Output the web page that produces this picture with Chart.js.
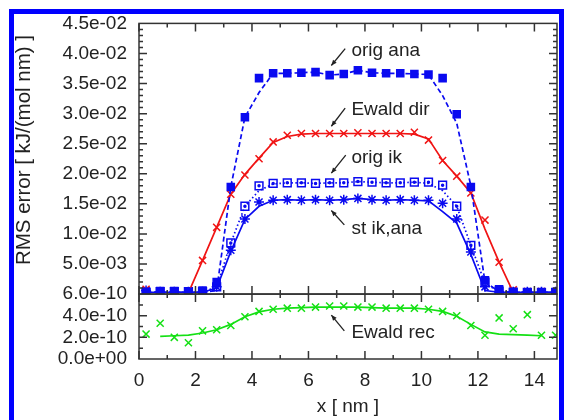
<!DOCTYPE html>
<html>
<head>
<meta charset="utf-8">
<script src="https://cdn.jsdelivr.net/npm/chart.js@4/dist/chart.umd.min.js"></script>
<style>
  html, body { margin: 0; padding: 0; background: #fff; }
  #wrap { position: relative; width: 564px; height: 420px; overflow: hidden; }
  #wrap canvas { position: absolute; left: 0; top: 0; }
  #frame { position: absolute; left: 9px; top: 9px; width: 545px; height: 440px;
           border: 5px solid #0000ff; border-bottom: none; pointer-events: none; }
</style>
</head>
<body>
<div id="wrap">
  <canvas id="chart" width="564" height="420"></canvas>
  <div id="frame"></div>
</div>
<script>
// bin centres along the box [nm]
const xs = [0.25, 0.75, 1.25, 1.75, 2.25, 2.75, 3.25, 3.75, 4.25, 4.75,
            5.25, 5.75, 6.25, 6.75, 7.25, 7.75, 8.25, 8.75, 9.25, 9.75,
            10.25, 10.75, 11.25, 11.75, 12.25, 12.75, 13.25, 13.75, 14.25, 14.75];

// upper panel, kJ/(mol nm)
const origAna = [0.0004, 0.0005, 0.0005, 0.0004, 0.0006, 0.0020, 0.0178, 0.0294, 0.0359, 0.0367,
                 0.0367, 0.0368, 0.0369, 0.0364, 0.0366, 0.0372, 0.0368, 0.0367, 0.0367, 0.0366,
                 0.0365, 0.0359, 0.0299, 0.0178, 0.0023, 0.0008, 0.0004, 0.0003, 0.0003, 0.0003];
const origAnaFit = [0.0003, 0.0003, 0.0003, 0.0003, 0.0003, 0.0006, 0.0178, 0.0294, 0.0335, 0.0367,
                    0.0367, 0.0368, 0.0369, 0.0364, 0.0366, 0.0372, 0.0368, 0.0367, 0.0367, 0.0366,
                    0.0365, 0.0330, 0.0284, 0.0180, 0.0020, 0.0004, 0.0003, 0.0003, 0.0003, 0.0003];

const ewaldDir = [0.0008, 0.0003, 0.0003, 0.0003, 0.0056, 0.0111, 0.0166, 0.0198, 0.0225, 0.0253,
                  0.0264, 0.0267, 0.0267, 0.0267, 0.0267, 0.0268, 0.0267, 0.0267, 0.0267, 0.0269,
                  0.0256, 0.0222, 0.0196, 0.0168, 0.0123, 0.0053, 0.0007, 0.0004, 0.0004, 0.0003];
const ewaldDirFit = [null, null, null, 0.0002, 0.0056, 0.0111, 0.0166, 0.0199, 0.0226, 0.0252,
                     0.0262, 0.0266, 0.0267, 0.0267, 0.0267, 0.0267, 0.0267, 0.0267, 0.0267, 0.0266,
                     0.0258, 0.0222, 0.0196, 0.0168, 0.0108, 0.0053, 0.0003, null, null, null];

const origIk = [0.0003, 0.0004, 0.0004, 0.0004, 0.0004, 0.0012, 0.0085, 0.0146, 0.0180, 0.0184,
                0.0185, 0.0185, 0.0184, 0.0185, 0.0185, 0.0187, 0.0186, 0.0185, 0.0185, 0.0186,
                0.0186, 0.0181, 0.0146, 0.0081, 0.0020, 0.0005, 0.0003, 0.0003, 0.0003, 0.0003];
const origIkFit = [0.0003, 0.0003, 0.0003, 0.0003, 0.0003, 0.0012, 0.0085, 0.0146, 0.0172, 0.0183,
                   0.0185, 0.0185, 0.0184, 0.0185, 0.0185, 0.0187, 0.0186, 0.0185, 0.0185, 0.0186,
                   0.0184, 0.0172, 0.0146, 0.0081, 0.0018, 0.0004, 0.0003, 0.0003, 0.0003, 0.0003];

const stIkAna = [0.0006, 0.0004, 0.0004, 0.0004, 0.0004, 0.0012, 0.0073, 0.0125, 0.0153, 0.0156,
                 0.0157, 0.0156, 0.0157, 0.0156, 0.0157, 0.0159, 0.0157, 0.0156, 0.0157, 0.0156,
                 0.0156, 0.0151, 0.0125, 0.0070, 0.0012, 0.0004, 0.0004, 0.0004, 0.0004, 0.0004];
const stIkAnaFit = [0.0003, 0.0003, 0.0003, 0.0003, 0.0003, 0.0010, 0.0071, 0.0124, 0.0146, 0.0156,
                    0.0157, 0.0156, 0.0157, 0.0156, 0.0157, 0.0159, 0.0157, 0.0156, 0.0157, 0.0156,
                    0.0155, 0.0137, 0.0118, 0.0066, 0.0006, 0.0003, 0.0003, 0.0003, 0.0003, 0.0003];

// lower panel
const ewaldRec = [2.3e-10, 3.3e-10, 2.0e-10, 1.5e-10, 2.6e-10, 2.7e-10, 3.1e-10, 3.9e-10, 4.4e-10, 4.6e-10,
                  4.7e-10, 4.7e-10, 4.8e-10, 4.9e-10, 4.9e-10, 4.8e-10, 4.8e-10, 4.7e-10, 4.7e-10, 4.7e-10,
                  4.6e-10, 4.4e-10, 4.0e-10, 3.1e-10, 2.2e-10, 3.8e-10, 2.8e-10, 4.1e-10, 2.2e-10, 2.2e-10];
const ewaldRecFit = [null, 2.1e-10, 2.15e-10, 2.2e-10, 2.4e-10, 2.7e-10, 3.2e-10, 3.9e-10, 4.35e-10, 4.6e-10,
                     4.7e-10, 4.75e-10, 4.8e-10, 4.8e-10, 4.8e-10, 4.8e-10, 4.75e-10, 4.7e-10, 4.7e-10, 4.7e-10,
                     4.6e-10, 4.4e-10, 3.95e-10, 3.2e-10, 2.5e-10, 2.3e-10, 2.25e-10, 2.2e-10, 2.15e-10, null];

// curve labels: text position and arrow (tail -> head), in data units
const notes = [
  { text: 'orig ana',  axis: 'y',  tx: 7.52, ty: 0.0405,  from: [7.30, 0.0408],  to: [6.81, 0.0380] },
  { text: 'Ewald dir', axis: 'y',  tx: 7.52, ty: 0.0306,  from: [7.30, 0.0309],  to: [6.81, 0.0279] },
  { text: 'orig ik',   axis: 'y',  tx: 7.52, ty: 0.0226,  from: [7.32, 0.0231],  to: [6.81, 0.0201] },
  { text: 'st ik,ana', axis: 'y',  tx: 7.52, ty: 0.0108,  from: [7.27, 0.0115],  to: [6.81, 0.0139] },
  { text: 'Ewald rec', axis: 'y2', tx: 7.52, ty: 2.4e-10, from: [7.27, 2.6e-10], to: [6.81, 4.06e-10] },
];
const yTitle = 'RMS error [ kJ/(mol nm) ]';

const BLUE = '#0a0af0', RED = '#f01414', GREEN = '#14e014', INK = '#222';
const FAMILY = '"Liberation Sans", Arial, sans-serif';
const FONT = { family: FAMILY, size: 19 };

const pts = arr => xs.map((x, i) => ({ x, y: arr[i] }));

function sci(v) {
  const [m, e] = v.toExponential(1).split('e');
  const n = parseInt(e, 10);
  return m + 'e' + (n < 0 ? '-' : '+') + String(Math.abs(n)).padStart(2, '0');
}

const line = (arr, color, dash, axis) => ({
  data: pts(arr), yAxisID: axis, showLine: true, pointRadius: 0,
  borderColor: color, borderWidth: 1.7, borderDash: dash, tension: 0, fill: false,
});
const marks = (arr, color, style, radius, axis, filled) => ({
  data: pts(arr), yAxisID: axis, showLine: false, pointStyle: style, pointRadius: radius,
  borderColor: color, pointBorderWidth: 1.5, backgroundColor: filled ? color : 'rgba(0,0,0,0)',
});

const panelDecor = {
  id: 'panelDecor',
  afterDatasetsDraw(chart) {
    const { ctx, chartArea: a, scales: { x, y, y2 } } = chart;
    ctx.save();
    ctx.strokeStyle = '#333';
    ctx.lineWidth = 1.5;
    for (const s of [y, y2]) ctx.strokeRect(a.left, s.top, a.right - a.left, s.bottom - s.top);

    ctx.beginPath();
    for (let k = 0; k <= 14; k++) {
      const px = x.getPixelForValue(k), len = k % 2 === 0 ? 8 : 4;
      for (const [yy, dir] of [[y.top, 1], [y.bottom, -1], [y2.top, 1], [y2.bottom, -1]]) {
        ctx.moveTo(px, yy); ctx.lineTo(px, yy + dir * len);
      }
    }
    for (let k = 1; k < 45; k++) {
      const py = y.getPixelForValue(k * 0.001), len = k % 5 === 0 ? 8 : 4;
      ctx.moveTo(a.left, py); ctx.lineTo(a.left + len, py);
      ctx.moveTo(a.right, py); ctx.lineTo(a.right - len, py);
    }
    for (let k = 1; k < 6; k++) {
      const py = y2.getPixelForValue(k * 1e-10), len = k % 2 === 0 ? 8 : 4;
      ctx.moveTo(a.left, py); ctx.lineTo(a.left + len, py);
      ctx.moveTo(a.right, py); ctx.lineTo(a.right - len, py);
    }
    ctx.stroke();

    // curve labels with arrows
    ctx.font = `${FONT.size}px ${FAMILY}`;
    ctx.fillStyle = INK;
    ctx.strokeStyle = INK;
    ctx.lineWidth = 1.3;
    ctx.textBaseline = 'middle';
    ctx.textAlign = 'left';
    for (const n of notes) {
      const sy = chart.scales[n.axis];
      ctx.fillText(n.text, x.getPixelForValue(n.tx), sy.getPixelForValue(n.ty));
      const x0 = x.getPixelForValue(n.from[0]), y0 = sy.getPixelForValue(n.from[1]);
      const x1 = x.getPixelForValue(n.to[0]), y1 = sy.getPixelForValue(n.to[1]);
      const ang = Math.atan2(y1 - y0, x1 - x0), h = 6, w = 0.4;
      ctx.beginPath(); ctx.moveTo(x0, y0); ctx.lineTo(x1, y1); ctx.stroke();
      ctx.beginPath();
      ctx.moveTo(x1, y1);
      ctx.lineTo(x1 - h * Math.cos(ang - w), y1 - h * Math.sin(ang - w));
      ctx.lineTo(x1 - h * Math.cos(ang + w), y1 - h * Math.sin(ang + w));
      ctx.closePath(); ctx.fill();
    }

    // y axis title, spanning mostly the upper panel
    ctx.font = `20.5px ${FAMILY}`;
    ctx.textAlign = 'center';
    ctx.translate(24, 150);
    ctx.rotate(-Math.PI / 2);
    ctx.fillText(yTitle, 0, 0);
    ctx.restore();
  }
};

new Chart(document.getElementById('chart'), {
  type: 'line',
  data: {
    datasets: [
      line(origAnaFit, BLUE, [5, 3], 'y'),
      marks(origAna, BLUE, 'rect', 5, 'y', true),
      line(ewaldDirFit, RED, [], 'y'),
      marks(ewaldDir, RED, 'crossRot', 5, 'y', false),
      line(origIkFit, BLUE, [1.5, 2.5], 'y'),
      marks(origIk, BLUE, 'rect', 5.5, 'y', false),
      marks(origIk, BLUE, 'circle', 1, 'y', true),
      line(stIkAnaFit, BLUE, [], 'y'),
      marks(stIkAna, BLUE, 'star', 5, 'y', false),
      line(ewaldRecFit, GREEN, [], 'y2'),
      marks(ewaldRec, GREEN, 'crossRot', 5, 'y2', false),
    ],
  },
  options: {
    responsive: false,
    animation: false,
    layout: { padding: { left: 0, right: 6, top: 23, bottom: 0 } },
    plugins: { legend: { display: false }, tooltip: { enabled: false } },
    scales: {
      x: {
        type: 'linear', min: 0, max: 14.8,
        ticks: { stepSize: 2, includeBounds: false, autoSkip: false, maxRotation: 0,
                 padding: 10, font: FONT, color: INK },
        grid: { display: false, drawTicks: false },
        border: { display: false },
        title: { display: true, text: 'x [ nm ]', font: FONT, color: INK, padding: { top: 0, bottom: 2 } },
        afterFit: s => { s.height = 61; },
      },
      y: {
        type: 'linear', position: 'left', stack: 'panels', stackWeight: 271, weight: 1,
        min: 0, max: 0.045,
        ticks: { stepSize: 0.005, autoSkip: false, padding: 12, font: FONT, color: INK,
                 callback: v => (Math.abs(v) < 1e-9 ? '' : sci(v)) },
        grid: { display: false, drawTicks: false },
        border: { display: false },
        afterFit: s => { s.width = 139; },
      },
      y2: {
        type: 'linear', position: 'left', stack: 'panels', stackWeight: 65, weight: 0,
        min: 0, max: 6e-10,
        ticks: { stepSize: 2e-10, autoSkip: false, padding: 12, font: FONT, color: INK,
                 callback: v => sci(v) },
        grid: { display: false, drawTicks: false },
        border: { display: false },
        afterFit: s => { s.width = 139; },
      },
    },
  },
  plugins: [panelDecor],
});
</script>
</body>
</html>
